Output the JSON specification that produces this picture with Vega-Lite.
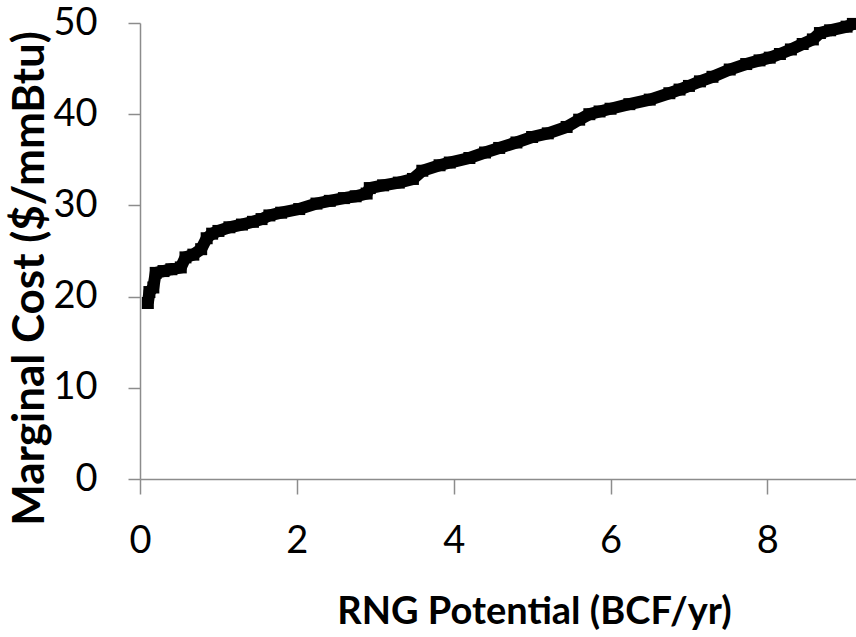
{
  "$schema": "https://vega.github.io/schema/vega-lite/v6.json",
  "autosize": {"type": "none"},
  "padding": {"left": 140, "top": 23, "right": 0, "bottom": 158},
  "width": 716,
  "height": 456,
  "background": "white",
  "config": {
    "view": {"stroke": null},
    "axis": {
      "grid": false,
      "ticks": true,
      "labelFlush": false,
      "domainColor": "#8c8c8c",
      "domainWidth": 1.5,
      "tickColor": "#8c8c8c",
      "tickWidth": 1.5,
      "labelFont": "Lato",
      "labelFontSize": 38,
      "labelColor": "#000000",
      "titleFont": "Lato",
      "titleFontWeight": "bold",
      "titleColor": "#000000"
    }
  },
  "data": {
    "values": [
      {"bcf": 0.10, "cost": 19.3},
      {"bcf": 0.12, "cost": 20.5},
      {"bcf": 0.17, "cost": 21.0},
      {"bcf": 0.20, "cost": 22.6},
      {"bcf": 0.30, "cost": 22.8},
      {"bcf": 0.40, "cost": 23.0},
      {"bcf": 0.52, "cost": 23.2},
      {"bcf": 0.58, "cost": 24.3},
      {"bcf": 0.68, "cost": 24.6},
      {"bcf": 0.78, "cost": 25.2},
      {"bcf": 0.85, "cost": 26.4},
      {"bcf": 0.92, "cost": 26.9},
      {"bcf": 1.00, "cost": 27.2},
      {"bcf": 1.14, "cost": 27.6},
      {"bcf": 1.30, "cost": 27.9},
      {"bcf": 1.44, "cost": 28.2},
      {"bcf": 1.55, "cost": 28.5},
      {"bcf": 1.65, "cost": 28.9},
      {"bcf": 1.80, "cost": 29.2},
      {"bcf": 2.03, "cost": 29.6},
      {"bcf": 2.25, "cost": 30.2},
      {"bcf": 2.42, "cost": 30.5},
      {"bcf": 2.60, "cost": 30.8},
      {"bcf": 2.75, "cost": 31.0},
      {"bcf": 2.89, "cost": 31.3},
      {"bcf": 2.93, "cost": 31.9},
      {"bcf": 3.10, "cost": 32.2},
      {"bcf": 3.30, "cost": 32.5},
      {"bcf": 3.48, "cost": 32.9},
      {"bcf": 3.60, "cost": 33.8},
      {"bcf": 3.82, "cost": 34.4},
      {"bcf": 3.95, "cost": 34.7},
      {"bcf": 4.20, "cost": 35.2},
      {"bcf": 4.40, "cost": 35.8},
      {"bcf": 4.58, "cost": 36.3},
      {"bcf": 4.80, "cost": 36.9},
      {"bcf": 5.00, "cost": 37.5},
      {"bcf": 5.20, "cost": 37.9},
      {"bcf": 5.44, "cost": 38.6},
      {"bcf": 5.60, "cost": 39.4},
      {"bcf": 5.73, "cost": 40.0},
      {"bcf": 5.86, "cost": 40.3},
      {"bcf": 6.00, "cost": 40.6},
      {"bcf": 6.24, "cost": 41.1},
      {"bcf": 6.50, "cost": 41.6},
      {"bcf": 6.75, "cost": 42.3},
      {"bcf": 6.88, "cost": 42.7},
      {"bcf": 7.00, "cost": 43.1},
      {"bcf": 7.14, "cost": 43.6},
      {"bcf": 7.30, "cost": 44.1},
      {"bcf": 7.52, "cost": 44.9},
      {"bcf": 7.73, "cost": 45.5},
      {"bcf": 7.90, "cost": 45.9},
      {"bcf": 8.03, "cost": 46.2},
      {"bcf": 8.16, "cost": 46.6},
      {"bcf": 8.30, "cost": 47.1},
      {"bcf": 8.45, "cost": 47.7},
      {"bcf": 8.58, "cost": 48.2},
      {"bcf": 8.67, "cost": 48.9},
      {"bcf": 8.80, "cost": 49.2},
      {"bcf": 9.01, "cost": 49.6},
      {"bcf": 9.09, "cost": 49.9}
    ]
  },
  "encoding": {
    "x": {
      "field": "bcf",
      "type": "quantitative",
      "scale": {"domain": [0, 9.13], "nice": false, "zero": false},
      "axis": {
        "title": "RNG Potential (BCF/yr)",
        "titleFontSize": 38,
        "values": [0, 2, 4, 6, 8],
        "tickSize": 15,
        "labelPadding": 28,
        "titleX": 394,
        "titleY": 144,
        "titleBaseline": "alphabetic",
        "titleAlign": "center"
      }
    },
    "y": {
      "field": "cost",
      "type": "quantitative",
      "scale": {"domain": [0, 50], "nice": false},
      "axis": {
        "title": "Marginal Cost  ($/mmBtu)",
        "titleFontSize": 44,
        "values": [0, 10, 20, 30, 40, 50],
        "tickSize": 12,
        "labelPadding": 31,
        "titleX": -97,
        "titleY": 255,
        "titleBaseline": "alphabetic",
        "titleAlign": "center"
      }
    }
  },
  "layer": [
    {"mark": {"type": "line", "color": "#000000", "strokeWidth": 12, "interpolate": "linear"}},
    {"mark": {"type": "point", "shape": "square", "filled": true, "opacity": 1, "color": "#000000", "size": 144}}
  ]
}
